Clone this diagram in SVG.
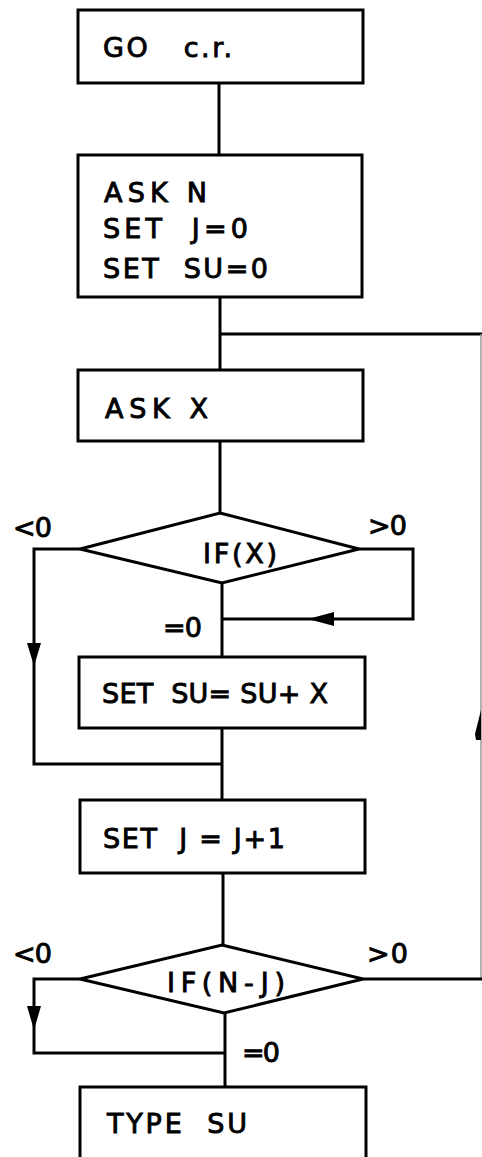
<svg xmlns="http://www.w3.org/2000/svg" width="482" height="1157" viewBox="0 0 482 1157">
<style>
  .box { fill: #fff; stroke: #000; stroke-width: 3; }
  .dia { fill: #fff; stroke: #000; stroke-width: 3; stroke-linejoin: miter; }
  .ln { fill: none; stroke: #000; stroke-width: 3; }
  .faint { fill: none; stroke: #999; stroke-width: 1.5; }
  .ah { fill: #000; }
  text { font-family: "DejaVu Sans", "Liberation Sans", sans-serif; font-size: 27px; fill: #000; stroke: #000; stroke-width: 0.9; }
  .lbl { font-size: 27px; }
</style>
<g id="connectors">
  <line class="ln" x1="219" y1="83" x2="219" y2="155"/>
  <line class="ln" x1="220" y1="297" x2="220" y2="370"/>
  <line class="ln" x1="220" y1="334" x2="482" y2="334"/>
  <line class="faint" x1="481" y1="334" x2="481" y2="979"/>
  <path class="ah" d="M481,710 L475,734 L476,740 L481,740 Z"/>
  <line class="ln" x1="220" y1="441" x2="220" y2="513"/>
  <!-- <0 branch of IF(X) -->
  <polyline class="ln" points="80,549 34,549 34,764 222,764"/>
  <path class="ah" d="M27,643 L34,666 L41,643 Z"/>
  <!-- >0 branch of IF(X) -->
  <polyline class="ln" points="359,549 413,549 413,619 222,619"/>
  <path class="ah" d="M334,612 L308,619 L334,626 Z"/>
  <line class="ln" x1="222" y1="583" x2="222" y2="657"/>
  <line class="ln" x1="222" y1="728" x2="222" y2="800"/>
  <line class="ln" x1="223" y1="873" x2="223" y2="945"/>
  <!-- IF(N-J) branches -->
  <line class="ln" x1="363" y1="979" x2="482" y2="979"/>
  <polyline class="ln" points="80,979 34,979 34,1053 225,1053"/>
  <path class="ah" d="M27,1006 L34,1030 L41,1006 Z"/>
  <line class="ln" x1="225" y1="1013" x2="225" y2="1087"/>
</g>
<g id="n-go">
  <rect class="box" x="78" y="10" width="285" height="73"/>
  <text x="103" y="57" textLength="129" lengthAdjust="spacing" xml:space="preserve">GO   c.r.</text>
</g>
<g id="n-init">
  <rect class="box" x="78" y="155" width="284" height="142"/>
  <text x="104" y="202" textLength="103" lengthAdjust="spacing">ASK N</text>
  <text x="103" y="238" textLength="145" lengthAdjust="spacing" xml:space="preserve">SET  J=0</text>
  <text x="103" y="278" textLength="165" lengthAdjust="spacing" xml:space="preserve">SET  SU=0</text>
</g>
<g id="n-askx">
  <rect class="box" x="78" y="370" width="285" height="71"/>
  <text x="105" y="418" textLength="103" lengthAdjust="spacing">ASK X</text>
</g>
<g id="n-ifx">
  <polygon class="dia" points="220,513 359,549 222,583 80,549"/>
  <text x="203" y="563" textLength="74" lengthAdjust="spacing">IF(X)</text>
  <text class="lbl" x="13" y="537" textLength="39" lengthAdjust="spacing">&lt;0</text>
  <text class="lbl" x="368" y="535" textLength="39" lengthAdjust="spacing">&gt;0</text>
  <text class="lbl" x="163" y="637" textLength="39" lengthAdjust="spacing">=0</text>
</g>
<g id="n-sum">
  <rect class="box" x="79" y="657" width="286" height="71"/>
  <text x="102" y="703" textLength="226" lengthAdjust="spacing" xml:space="preserve">SET  SU= SU+ X</text>
</g>
<g id="n-inc">
  <rect class="box" x="80" y="800" width="285" height="73"/>
  <text x="103" y="848" textLength="182" lengthAdjust="spacing" xml:space="preserve">SET  J = J+1</text>
</g>
<g id="n-ifnj">
  <polygon class="dia" points="222,945 363,979 224,1013 80,979"/>
  <text x="167" y="992" textLength="118" lengthAdjust="spacing">IF(N-J)</text>
  <text class="lbl" x="13" y="963" textLength="39" lengthAdjust="spacing">&lt;0</text>
  <text class="lbl" x="367" y="963" textLength="41" lengthAdjust="spacing">&gt; 0</text>
  <text class="lbl" x="242" y="1062" textLength="38" lengthAdjust="spacing">=0</text>
</g>
<g id="n-type">
  <rect class="box" x="80" y="1087" width="286" height="90"/>
  <text x="107" y="1133" textLength="140" lengthAdjust="spacing" xml:space="preserve">TYPE  SU</text>
</g>
</svg>
